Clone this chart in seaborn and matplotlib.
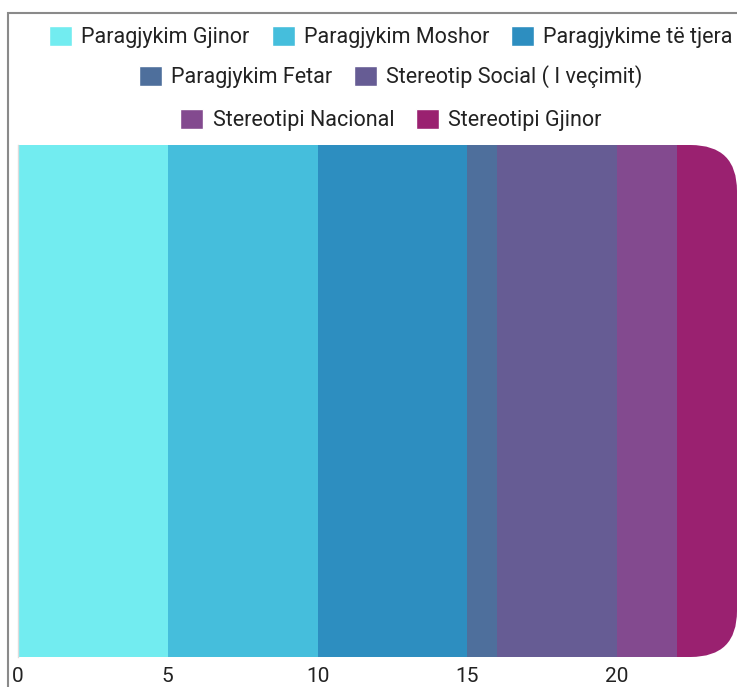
import pandas as pd
import matplotlib.pyplot as plt
import seaborn as sns
from matplotlib.patches import FancyBboxPatch, Rectangle, Patch

# te dhenat
kategorite = ['Paragjykim Gjinor', 'Paragjykim Moshor', 'Paragjykime të tjera',
              'Paragjykim Fetar', 'Stereotip Social ( I veçimit)',
              'Stereotipi Nacional', 'Stereotipi Gjinor']
vlerat = [5, 5, 5, 1, 4, 2, 2]
ngjyrat = ['#72ecf0', '#45bedc', '#2d8ec0', '#4e6f9c', '#665c94', '#834a8f', '#9a2170']
rreshtat_legjendes = [[0, 1, 2], [3, 4], [5, 6]]
xticks = [0, 5, 10, 15, 20]

sns.set_style('white')
plt.rcParams['font.family'] = ['Roboto', 'DejaVu Sans']

df = pd.DataFrame({'kategoria': kategorite, 'vlera': vlerat})
df['fundi'] = df['vlera'].cumsum()
df['rreshti'] = 'total'

fig = plt.figure(figsize=(7.37, 6.87), dpi=100)
ax = fig.add_axes([18 / 737, 30 / 687, 1 - 18 / 737, 512 / 687])

# shtyllat e grumbulluara: me e gjata vizatohet e para, te tjerat mbi te
sns.barplot(data=df, x='fundi', y='rreshti', hue='kategoria',
            hue_order=kategorite[::-1], palette=dict(zip(kategorite, ngjyrat)),
            dodge=False, width=1, saturation=1, legend=False, ax=ax,
            linewidth=0)

total = df['fundi'].iloc[-1]
ax.set_xlim(0, total)
ax.set_ylim(0.5, -0.5)

# cepat e rrumbullakosur ne fund
r = 1.55
kutia = FancyBboxPatch((0, -0.5), total, 1, boxstyle=f'round,pad=0,rounding_size={r}',
                       mutation_aspect=(46 / 512) / r, transform=ax.transData,
                       facecolor='none', edgecolor='none')
ax.add_patch(kutia)
ax.patches[0].set_clip_path(kutia)

ax.set_xticks(xticks)
ax.set_yticks([])
ax.set_xlabel('')
ax.set_ylabel('')
ax.tick_params(axis='x', length=0, labelsize=15, labelcolor='#222222', pad=7)
for s in ['top', 'right', 'bottom']:
    ax.spines[s].set_visible(False)
ax.spines['left'].set_color('#dcdcdc')
ax.spines['left'].set_linewidth(1)

# legjenda ne tre rreshta
y_rreshtat = [37, 77, 120]
for rresht, y in zip(rreshtat_legjendes, y_rreshtat):
    doreza = [Patch(facecolor=ngjyrat[i], label=kategorite[i]) for i in rresht]
    fig.legend(handles=doreza, loc='center', bbox_to_anchor=(391 / 737, 1 - y / 687),
               ncol=len(rresht), frameon=False, fontsize=15.5, handlelength=1.07,
               handleheight=1.07, handletextpad=0.42, columnspacing=1.02,
               labelcolor='#222222', borderpad=0, borderaxespad=0)

# korniza gri
fig.patches.append(Rectangle((8 / 737, -0.5), 2, 1.5 - 13 / 687, fill=False,
                             edgecolor='#8a8a8a', lw=1.5, transform=fig.transFigure))

fig.savefig('out.png', dpi=100)
